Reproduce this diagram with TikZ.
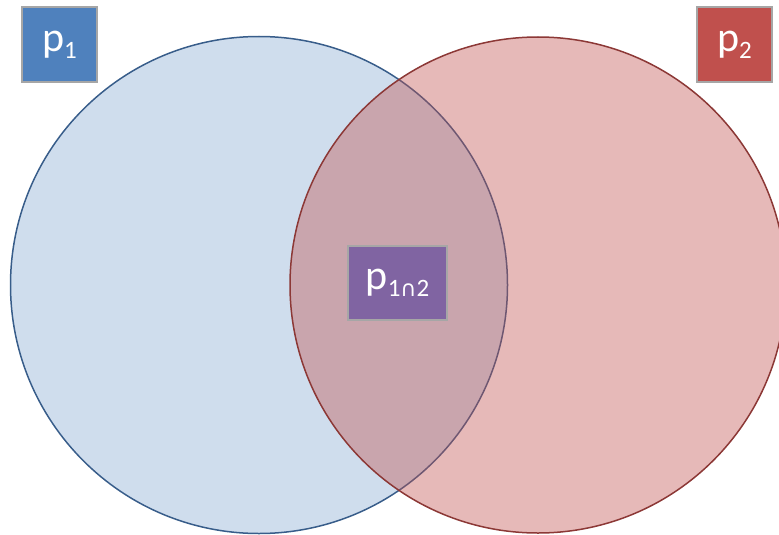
\documentclass[tikz,border=0pt]{standalone}
\usepackage{fontspec}
\setmainfont{Carlito}
\newfontfamily\symfont{DejaVu Sans}
\usetikzlibrary{positioning}

\definecolor{setblue}{HTML}{4F81BD}
\definecolor{setred}{HTML}{C0504D}
\definecolor{setpurple}{HTML}{8064A2}
\definecolor{blueline}{HTML}{385D8A}
\definecolor{redline}{HTML}{8C3836}
\definecolor{boxline}{HTML}{A6A6A6}

% p with a lowered, smaller index
\newcommand{\pidx}[1]{p\raisebox{-7pt}{\fontsize{25}{25}\selectfont #1}}

\begin{document}
\begin{tikzpicture}[
  x=1pt, y=-1pt,
  font=\fontsize{42}{42}\selectfont,
  setbox/.style={draw=boxline, line width=1.5pt, text=white, inner sep=0pt,
                 minimum width=75pt, minimum height=75pt},
  setA/.style={draw=blueline, line width=1.5pt, fill=setblue, fill opacity=0.27},
  setB/.style={draw=redline, line width=1.5pt, fill=setred, fill opacity=0.4},
]
\useasboundingbox (0,0) rectangle (779,535);

\begin{scope}
  \clip (0,0) rectangle (779,535);
  \coordinate (cA) at (259,285);
  \coordinate (cB) at (538,285);
  \draw[setA] (cA) circle[radius=248.5];
  \draw[setB] (cB) circle[radius=248];
\end{scope}

\node[setbox, fill=setblue] (pA) at (59.5,44.5) {\pidx{1}};
\node[setbox, fill=setred] (pB) at (734.5,44.5) {\pidx{2}};
\node[setbox, fill=setpurple, minimum width=99pt, minimum height=74pt]
  (pAB) at (397.5,283) {\pidx{1{\symfont\fontsize{22}{22}\selectfont ∩}2}};
\end{tikzpicture}
\end{document}
